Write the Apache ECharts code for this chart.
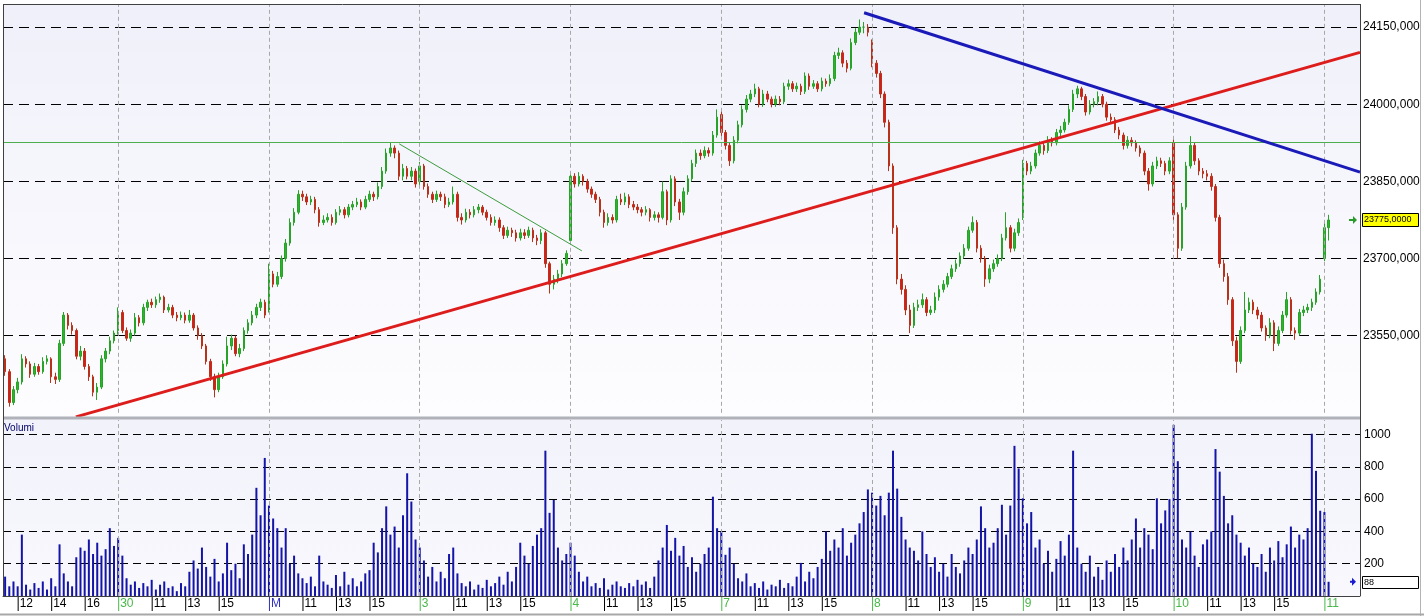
<!DOCTYPE html>
<html><head><meta charset="utf-8">
<style>html,body{margin:0;padding:0;background:#fff}#c{width:1424px;height:616px}</style>
<script src="https://cdn.jsdelivr.net/npm/echarts@6/dist/echarts.min.js"></script>
</head><body><div id="c"></div>
<script>
// ---- session / tick data ----
const dayNames = ['', '30', 'M', '3', '4', '7', '8', '9', '10', '11'];
const barsPerDay = [27, 36, 36, 36, 36, 36, 36, 36, 36, 2];
const dayStartMinutes = [675, 540, 540, 540, 540, 540, 540, 540, 540, 540];
const futureSlots = 7;
const firstDayTicks = ['12:00', '14:00', '16:00'];
const hourTicks = ['11:00', '13:00', '15:00'];

// ---- 15-minute bars ----
const open = [
23505,23480,23420,23445,23460,23505,23495,23475,23490,23480,23500,23505,23470,23465,23535,23590,23570,23560,23510,23520,23490,23470,23440,23450,23505,23520,23540,
23560,23595,23560,23545,23555,23585,23575,23605,23615,23610,23620,23625,23600,23605,23590,23585,23590,23580,23590,23565,23550,23530,23500,23470,23445,23470,23495,23530,23545,23515,23525,23560,23575,23590,23605,23615,
23600,23670,23650,23665,23700,23730,23770,23790,23825,23820,23810,23815,23795,23770,23775,23780,23770,23790,23795,23785,23800,23805,23810,23800,23815,23825,23820,23840,23870,23905,23915,23905,23860,23875,23860,23870,
23850,23880,23840,23825,23815,23825,23820,23805,23810,23825,23780,23775,23790,23785,23795,23800,23790,23780,23770,23775,23760,23745,23755,23750,23740,23750,23745,23755,23740,23735,23750,23690,23650,23660,23670,23690,
23735,23860,23845,23860,23850,23835,23825,23815,23790,23770,23780,23775,23815,23810,23820,23805,23800,23795,23790,23795,23780,23785,23780,23830,23775,23855,23810,23790,23830,23855,23885,23905,23900,23910,23905,23940,
23980,23945,23920,23890,23930,23960,23990,24010,24020,24030,24000,24020,24010,24000,24010,24005,24035,24040,24030,24035,24025,24055,24035,24040,24030,24045,24040,24050,24095,24100,24080,24070,24120,24140,24150,24150,
24120,24080,24060,24020,23965,23880,23760,23660,23640,23600,23570,23605,23610,23620,23595,23600,23625,23640,23650,23665,23680,23690,23705,23720,23755,23770,23720,23700,23660,23680,23690,23700,23740,23760,23720,23750,
23780,23885,23870,23880,23905,23920,23910,23930,23925,23945,23950,23965,23990,24020,24030,24015,23985,24000,24005,24015,24000,23975,23970,23950,23940,23920,23930,23925,23915,23905,23870,23845,23880,23890,23885,23870,
23925,23785,23720,23800,23880,23920,23890,23870,23865,23860,23840,23780,23690,23665,23620,23540,23500,23560,23600,23615,23600,23590,23565,23550,23575,23535,23560,23590,23620,23560,23555,23595,23600,23605,23615,23635,
23700,23760];
const close = [
23480,23420,23445,23460,23505,23495,23475,23490,23480,23500,23505,23470,23465,23535,23590,23570,23560,23510,23520,23490,23470,23440,23450,23505,23520,23540,23555,
23595,23560,23545,23555,23585,23575,23605,23615,23610,23620,23625,23600,23605,23590,23585,23590,23580,23590,23565,23550,23530,23500,23470,23445,23470,23495,23530,23545,23515,23525,23560,23575,23590,23605,23615,23590,
23670,23650,23665,23700,23730,23770,23790,23825,23820,23810,23815,23795,23770,23775,23780,23770,23790,23795,23785,23800,23805,23810,23800,23815,23825,23820,23840,23870,23905,23915,23905,23860,23875,23860,23870,23845,
23880,23840,23825,23815,23825,23820,23805,23810,23825,23780,23775,23790,23785,23795,23800,23790,23780,23770,23775,23760,23745,23755,23750,23740,23750,23745,23755,23740,23735,23750,23690,23650,23660,23670,23690,23710,
23860,23845,23860,23850,23835,23825,23815,23790,23770,23780,23775,23815,23810,23820,23805,23800,23795,23790,23795,23780,23785,23780,23830,23775,23855,23810,23790,23830,23855,23885,23905,23900,23910,23905,23940,23975,
23945,23920,23890,23930,23960,23990,24010,24020,24030,24000,24020,24010,24000,24010,24005,24035,24040,24030,24035,24025,24055,24035,24040,24030,24045,24040,24050,24095,24100,24080,24070,24120,24140,24150,24150,24140,
24080,24060,24020,23965,23880,23760,23660,23640,23600,23570,23605,23610,23620,23595,23600,23625,23640,23650,23665,23680,23690,23705,23720,23755,23770,23720,23700,23660,23680,23690,23700,23740,23760,23720,23750,23770,
23885,23870,23880,23905,23920,23910,23930,23925,23945,23950,23965,23990,24020,24030,24015,23985,24000,24005,24015,24000,23975,23970,23950,23940,23920,23930,23925,23915,23905,23870,23845,23880,23890,23885,23870,23890,
23785,23720,23800,23880,23920,23890,23870,23865,23860,23840,23780,23690,23665,23620,23540,23500,23560,23600,23615,23600,23590,23565,23550,23575,23535,23560,23590,23620,23560,23555,23595,23600,23605,23615,23635,23660,
23760,23775];
const high = [
23512,23485,23452,23468,23514,23510,23500,23497,23495,23508,23512,23508,23478,23542,23596,23594,23576,23564,23530,23526,23495,23474,23458,23512,23526,23548,23560,
23605,23600,23566,23562,23594,23590,23612,23620,23622,23626,23632,23628,23612,23610,23596,23597,23595,23600,23594,23570,23555,23534,23505,23476,23478,23502,23548,23552,23550,23534,23566,23582,23598,23612,23622,23620,
23690,23676,23674,23706,23738,23778,23798,23833,23832,23826,23822,23820,23800,23784,23788,23786,23796,23802,23800,23806,23812,23818,23815,23822,23832,23830,23848,23878,23914,23926,23920,23910,23884,23880,23878,23875,
23888,23884,23846,23830,23832,23830,23826,23818,23840,23830,23788,23797,23796,23802,23806,23804,23795,23786,23782,23780,23765,23762,23760,23756,23758,23757,23762,23760,23746,23757,23754,23694,23668,23678,23697,23716,
23870,23866,23868,23864,23855,23840,23830,23820,23795,23788,23786,23822,23826,23828,23825,23812,23806,23800,23802,23798,23792,23790,23850,23834,23862,23860,23816,23838,23862,23892,23912,23912,23918,23916,23948,23990,
23990,23950,23925,23938,23968,23998,24018,24028,24040,24034,24028,24026,24015,24017,24016,24042,24048,24045,24042,24040,24062,24060,24047,24045,24052,24050,24058,24102,24110,24105,24086,24128,24148,24165,24160,24156,
24126,24086,24065,24025,23970,23885,23765,23670,23648,23610,23614,23620,23632,23625,23608,23634,23648,23658,23672,23688,23698,23712,23728,23762,23782,23775,23726,23705,23688,23698,23708,23748,23790,23765,23758,23778,
23892,23890,23888,23912,23928,23926,23938,23936,23952,23958,23972,23998,24028,24036,24034,24020,24008,24012,24025,24020,24005,23982,23975,23956,23945,23938,23936,23930,23920,23910,23876,23888,23898,23896,23890,23897,
23935,23790,23808,23888,23938,23925,23895,23876,23872,23866,23845,23785,23698,23672,23625,23548,23568,23635,23624,23620,23606,23596,23570,23584,23580,23568,23598,23635,23625,23566,23602,23608,23612,23622,23642,23668,
23770,23785];
const low = [
23472,23412,23415,23438,23455,23488,23468,23470,23474,23476,23494,23458,23456,23460,23530,23562,23552,23504,23502,23484,23462,23432,23425,23446,23498,23514,23535,
23552,23555,23540,23538,23550,23568,23570,23598,23604,23604,23614,23594,23595,23584,23578,23580,23574,23575,23560,23542,23524,23494,23462,23430,23440,23466,23490,23522,23510,23508,23520,23554,23570,23584,23598,23584,
23595,23644,23645,23660,23694,23725,23764,23786,23812,23804,23804,23788,23762,23765,23770,23764,23766,23784,23778,23780,23794,23800,23794,23796,23810,23812,23815,23835,23865,23898,23895,23852,23852,23854,23852,23838,
23842,23834,23818,23808,23810,23812,23798,23800,23805,23772,23766,23770,23778,23780,23788,23784,23774,23764,23764,23752,23738,23740,23742,23733,23735,23738,23740,23732,23726,23728,23682,23632,23640,23652,23664,23686,
23730,23838,23840,23842,23828,23818,23808,23782,23760,23764,23768,23770,23804,23804,23798,23794,23788,23782,23784,23772,23774,23770,23776,23765,23770,23802,23775,23784,23824,23850,23878,23892,23895,23898,23900,23935,
23938,23912,23880,23885,23924,23955,23984,24004,24014,23994,23995,24004,23994,23995,23998,24000,24028,24024,24024,24018,24020,24028,24030,24024,24025,24034,24035,24045,24088,24072,24062,24066,24115,24135,24138,24132,
24072,24052,24012,23955,23870,23748,23650,23630,23590,23555,23565,23598,23604,23588,23590,23594,23618,23634,23644,23660,23674,23684,23700,23715,23750,23712,23692,23645,23652,23674,23684,23695,23735,23712,23714,23744,
23775,23862,23864,23875,23900,23902,23905,23918,23920,23938,23945,23960,23985,24012,24008,23978,23980,23994,23998,23994,23968,23962,23944,23932,23912,23914,23918,23908,23898,23862,23832,23840,23874,23878,23862,23864,
23775,23700,23715,23795,23875,23882,23862,23856,23852,23832,23772,23682,23655,23610,23530,23478,23495,23555,23594,23592,23582,23558,23540,23545,23520,23530,23555,23585,23552,23542,23550,23588,23594,23598,23610,23630,
23695,23735];
const volume = [
120,60,90,60,380,70,40,80,50,90,40,110,60,320,140,90,60,240,300,280,350,260,330,250,290,420,310,
360,250,110,70,90,50,80,60,100,40,70,90,50,60,30,80,60,150,220,170,300,180,120,230,90,140,330,160,200,110,320,260,380,670,500,855,
560,480,420,300,420,200,250,140,110,80,120,60,250,90,70,50,130,60,150,70,110,60,90,140,160,330,270,420,555,380,430,300,500,760,585,350,
300,220,120,180,90,150,110,260,300,140,80,60,90,40,70,50,100,60,80,120,70,150,90,180,330,250,200,310,380,420,900,515,595,300,220,260,
330,250,150,90,120,60,80,50,110,40,70,90,60,50,80,60,100,70,90,50,120,220,300,440,280,360,250,310,180,240,150,200,260,300,615,420,
400,255,300,200,110,90,140,60,80,50,90,40,70,60,100,50,80,60,120,205,90,150,110,180,230,400,280,350,300,420,250,330,380,450,520,660,
640,560,620,500,640,900,665,490,350,300,280,220,400,260,180,240,150,200,120,260,180,140,220,300,260,350,555,420,300,330,420,565,380,560,930,790,
605,450,520,300,350,200,280,150,230,340,250,380,900,300,200,150,250,120,180,100,220,150,260,180,300,220,350,480,300,420,380,290,605,450,530,600,
1060,835,350,300,400,250,180,320,350,400,910,770,620,450,500,380,330,250,300,200,180,260,150,300,220,340,240,320,430,300,380,350,420,1005,775,528,
520,88];

// ---- drawn lines (x in bar slots from the left edge, y in price) ----
const redTrend = [[17.4, 23392], [324, 24101]];
const blueTrend = [[205.6, 24178], [324, 23868]];
const greenTrend = [[94.6, 23923], [138.2, 23715]];
const greenLevel = 23926;

// ---- build categories / labels ----
const categories = [], labelMap = {}, dayStartIdx = [];
function hhmm(m) { return String(Math.floor(m / 60)).padStart(2, '0') + ':' + String(m % 60).padStart(2, '0'); }
let idx = 0;
for (let d = 0; d < dayNames.length; d++) {
  const n = barsPerDay[d] + (d === dayNames.length - 1 ? futureSlots : 0);
  for (let j = 0; j < n; j++) {
    const t = hhmm(dayStartMinutes[d] + 15 * j);
    categories.push((dayNames[d] || 'prev') + ' ' + t);
    if (j === 0 && d > 0) { labelMap[idx] = { text: dayNames[d], kind: dayNames[d] === 'M' ? 'm' : 'd' }; dayStartIdx.push(idx); }
    else if ((d === 0 ? firstDayTicks : hourTicks).includes(t)) labelMap[idx] = { text: t.slice(0, 2), kind: 'h' };
    idx++;
  }
}
const nCat = categories.length;
const candles = open.map((o, i) => [o, close[i], low[i], high[i]]);

const FONT = 'Liberation Sans';
const chart = echarts.init(document.getElementById('c'), null, { renderer: 'canvas' });
const PL = 3, PR = 1360;
chart.setOption({
  animation: false,
  backgroundColor: '#ffffff',
  grid: [
    { left: PL, right: 1424 - PR, top: 4, height: 408.8 },
    { left: PL, right: 1424 - PR, top: 420, height: 176 }
  ],
  xAxis: [
    { type: 'category', gridIndex: 0, data: categories, boundaryGap: true,
      axisLine: { show: false }, axisTick: { show: false }, axisLabel: { show: false }, splitLine: { show: false } },
    { type: 'category', gridIndex: 1, data: categories, boundaryGap: true,
      axisLine: { show: true, lineStyle: { color: '#404040', width: 1 } },
      axisTick: { show: false }, splitLine: { show: false },
      axisLabel: {
        show: true, margin: 1, align: 'left', showMaxLabel: false, hideOverlap: false,
        interval: (i) => labelMap[i] !== undefined,
        formatter: (v, i) => { const L = labelMap[i]; if (!L) return ''; return '{' + L.kind + 'b|}{' + L.kind + '|' + L.text + '}'; },
        rich: {
          hb: { width: 1, height: 14, backgroundColor: '#000000' },
          h: { color: '#000000', fontSize: 12, fontFamily: FONT, padding: [0, 0, 0, 1], lineHeight: 14 },
          db: { width: 1, height: 14, backgroundColor: '#48b848' },
          d: { color: '#48b848', fontSize: 12, fontFamily: FONT, padding: [0, 0, 0, 1], lineHeight: 14 },
          mb: { width: 1, height: 14, backgroundColor: '#3030c0' },
          m: { color: '#3030c0', fontSize: 12, fontFamily: FONT, padding: [0, 0, 0, 1], lineHeight: 14 }
        }
      } },
    { type: 'value', gridIndex: 0, min: 0, max: nCat, show: false }
  ],
  yAxis: [
    { type: 'value', gridIndex: 0, position: 'right', min: 23400, max: 24195, interval: 150, scale: true,
      axisLine: { show: false }, axisTick: { show: false },
      axisLabel: { margin: 3, color: '#000', fontSize: 12, fontFamily: FONT,
        formatter: v => (v >= 23550 && v <= 24150 && v % 150 === 0) ? v + ',000' : '' },
      splitLine: { show: true, showMinLine: false, showMaxLine: false, lineStyle: { color: '#000', type: [10, 6], width: 1 } } },
    { type: 'value', gridIndex: 1, position: 'right', min: 0, max: 1090, interval: 200,
      axisLine: { show: false }, axisTick: { show: false },
      axisLabel: { margin: 4, color: '#000', fontSize: 12, fontFamily: FONT,
        formatter: v => (v > 0 && v <= 1000 && v % 200 === 0) ? String(v) : '' },
      splitLine: { show: true, showMinLine: false, showMaxLine: false, lineStyle: { color: '#000', type: [8, 5], width: 1 } } }
  ],
  series: [
    { type: 'candlestick', xAxisIndex: 0, yAxisIndex: 0, data: candles, barWidth: 2,
      itemStyle: { color: '#2cb52c', color0: '#dc1a1a', borderColor: '#27a427', borderColor0: '#b8321a', borderWidth: 1 },
      markLine: { silent: true, symbol: ['none', 'none'], label: { show: false }, animation: false,
        data: dayStartIdx.map(i => ({ xAxis: i, lineStyle: { color: '#a8a8a8', type: [4, 3], width: 1 } }))
          .concat([{ yAxis: greenLevel, lineStyle: { color: '#4caf4c', type: 'solid', width: 1 } }]) } },
    { type: 'line', xAxisIndex: 2, yAxisIndex: 0, data: redTrend, symbol: 'none', clip: false, z: 5,
      lineStyle: { color: '#dd1c1c', width: 3 } },
    { type: 'line', xAxisIndex: 2, yAxisIndex: 0, data: blueTrend, symbol: 'none', clip: false, z: 5,
      lineStyle: { color: '#1a1ab8', width: 3 } },
    { type: 'line', xAxisIndex: 2, yAxisIndex: 0, data: greenTrend, symbol: 'none', z: 5,
      lineStyle: { color: '#3c9c3c', width: 1 } },
    { type: 'bar', xAxisIndex: 1, yAxisIndex: 1, data: volume, barWidth: 2,
      itemStyle: { color: '#1414a8' },
      markLine: { silent: true, symbol: ['none', 'none'], label: { show: false }, animation: false,
        data: dayStartIdx.map(i => ({ xAxis: i, lineStyle: { color: '#a8a8a8', type: [4, 3], width: 1 } })) } }
  ]
});

// overlays positioned through the axes
const last = close.length - 1;
const yP = chart.convertToPixel({ yAxisIndex: 0 }, close[last]);
const yV = chart.convertToPixel({ yAxisIndex: 1 }, volume[last]);
const els = [
  { type: 'rect', z: -10, silent: true, shape: { x: PL, y: 4, width: PR - PL, height: 413 },
    style: { fill: new echarts.graphic.LinearGradient(0, 0, 0, 1, [{ offset: 0, color: '#f0f0fa' }, { offset: 1, color: '#fdfdff' }]) } },
  { type: 'rect', z: -10, silent: true, shape: { x: PL, y: 419, width: PR - PL, height: 177 },
    style: { fill: new echarts.graphic.LinearGradient(0, 0, 0, 1, [{ offset: 0, color: '#f2f2fb' }, { offset: 1, color: '#f8f8fd' }]) } },
  { type: 'rect', z: 50, silent: true, shape: { x: PL, y: 416.5, width: PR - PL, height: 3 }, style: { fill: '#b0b2ba' } },
  { type: 'line', z: 50, silent: true, shape: { x1: PL + 0.5, y1: 4, x2: PL + 0.5, y2: 596 }, style: { stroke: '#404040', lineWidth: 1 } },
  { type: 'line', z: 50, silent: true, shape: { x1: PR + 0.5, y1: 4, x2: PR + 0.5, y2: 596 }, style: { stroke: '#404040', lineWidth: 1 } },
  { type: 'line', z: 50, silent: true, shape: { x1: PL, y1: 4.5, x2: PR + 1, y2: 4.5 }, style: { stroke: '#404040', lineWidth: 1 } },
  { type: 'line', z: 50, silent: true, shape: { x1: 1420.5, y1: 0, x2: 1420.5, y2: 616 }, style: { stroke: '#b4b4b4', lineWidth: 1 } },
  { type: 'line', z: 50, silent: true, shape: { x1: 0, y1: 614.5, x2: 1424, y2: 614.5 }, style: { stroke: '#a8a8a8', lineWidth: 2 } },
  { type: 'text', z: 50, silent: true, style: { x: 4, y: 423, text: 'Volumi', fill: '#00006a', font: '10px ' + FONT } },
  // current price tag
  { type: 'rect', z: 50, silent: true, shape: { x: 1362.5, y: Math.round(yP) - 6.5, width: 56, height: 13 }, style: { fill: '#ffff00', stroke: '#000', lineWidth: 1 } },
  { type: 'text', z: 51, silent: true, style: { x: 1364, y: Math.round(yP), text: close[last] + ',0000', fill: '#000', font: '9px ' + FONT, textVerticalAlign: 'middle' } },
  { type: 'polygon', z: 50, silent: true, shape: { points: [[1349, yP - 1], [1353, yP - 1], [1353, yP - 4], [1357, yP], [1353, yP + 4], [1353, yP + 1], [1349, yP + 1]] }, style: { fill: '#2a9a2a' } },
  // current volume tag
  { type: 'rect', z: 50, silent: true, shape: { x: 1362.5, y: Math.round(yV) - 5.5, width: 56, height: 12 }, style: { fill: '#ffffff', stroke: '#000', lineWidth: 1 } },
  { type: 'text', z: 51, silent: true, style: { x: 1364, y: Math.round(yV) + 0.5, text: String(volume[last]), fill: '#000', font: '9px ' + FONT, textVerticalAlign: 'middle' } },
  { type: 'polygon', z: 50, silent: true, shape: { points: [[1350, yV - 1], [1352, yV - 1], [1352, yV - 4], [1356, yV], [1352, yV + 4], [1352, yV + 1], [1350, yV + 1]] }, style: { fill: '#1a1ad0' } }
];
const lens = [open.length, close.length, high.length, low.length, volume.length];
if (lens.some(l => l !== lens[0])) els.push({ type: 'text', z: 99, style: { x: 300, y: 200, text: 'LEN ' + lens.join(','), fill: '#f00', font: '30px sans-serif' } });
chart.setOption({ graphic: { elements: els } });
</script>
</body></html>
